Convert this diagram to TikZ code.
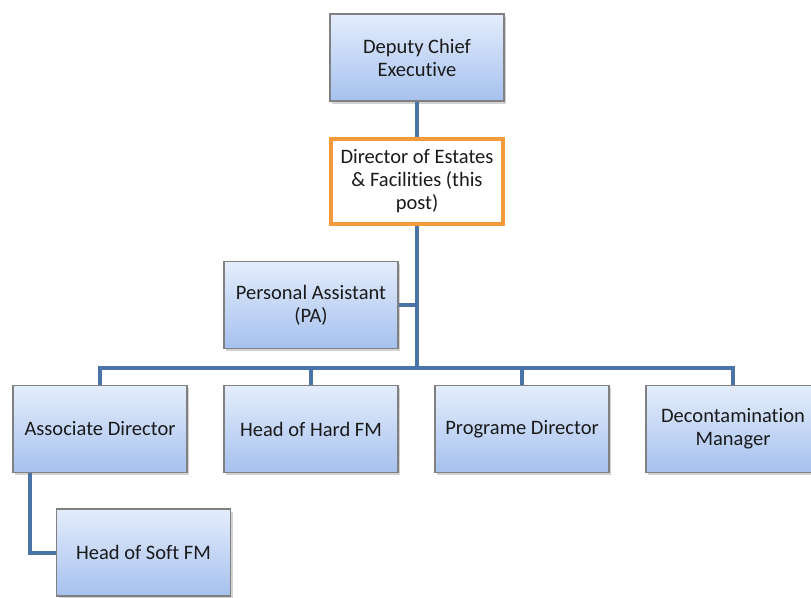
\documentclass[tikz,border=0pt]{standalone}
\usepackage{fontspec}
\setmainfont{Carlito}[Ligatures=NoCommon]
\usetikzlibrary{shadows}
\definecolor{boxtop}{HTML}{E4EDFC}
\definecolor{boxbot}{HTML}{A6C1EE}
\definecolor{boxline}{HTML}{808080}
\definecolor{connblue}{HTML}{4A73A8}
\definecolor{postorange}{HTML}{F39A3A}
\definecolor{txt}{HTML}{1A1A1A}
\tikzset{
  rolebox/.style={draw=boxline, line width=1.2pt, top color=boxtop, bottom color=boxbot,
    minimum width=174pt, minimum height=87pt, align=center, text=txt,
    font=\fontsize{20.5}{23}\selectfont,
    drop shadow={shadow xshift=2pt, shadow yshift=-2.5pt, opacity=0.35}},
  postbox/.style={draw=postorange, line width=3.5pt, fill=white,
    minimum width=172pt, minimum height=85pt, align=center, text=txt,
    font=\fontsize{20.5}{23}\selectfont},
  conn/.style={draw=connblue, line width=4pt}
}
\begin{document}
\begin{tikzpicture}[x=1pt,y=-1pt]
\useasboundingbox (0,0) rectangle (811,597);
\fill[white] (0,0) rectangle (811,597);
\clip (0,0) rectangle (811,597);
\coordinate (bar) at (417,368);
\node[rolebox] (dce) at (417,57.5) {Deputy Chief\\Executive};
\node[postbox] (dir) at (417,181.5) {Director of Estates\\\& Facilities (this\\post)};
\node[rolebox] (pa) at (311,305) {Personal Assistant\\(PA)};
\node[rolebox] (ad) at (100,429) {Associate Director};
\node[rolebox] (hh) at (311,429) {Head of Hard FM};
\node[rolebox] (pd) at (522,429) {Programe Director};
\node[rolebox] (dec) at (733,429) {Decontamination\\Manager};
\node[rolebox] (sf) at (143.5,552.5) {Head of Soft FM};
\draw[conn] (dce.south) -- (dir.north);
\draw[conn] (dir.south) -- (bar);
\draw[conn] (pa.east) -- (pa.east -| bar);
\draw[conn] (ad.north) -- (ad.north |- bar) -- (dec.north |- bar) -- (dec.north);
\draw[conn] (hh.north) -- (hh.north |- bar);
\draw[conn] (pd.north) -- (pd.north |- bar);
\draw[conn] ([xshift=18pt]ad.south west) |- (sf.west);
\end{tikzpicture}
\end{document}
